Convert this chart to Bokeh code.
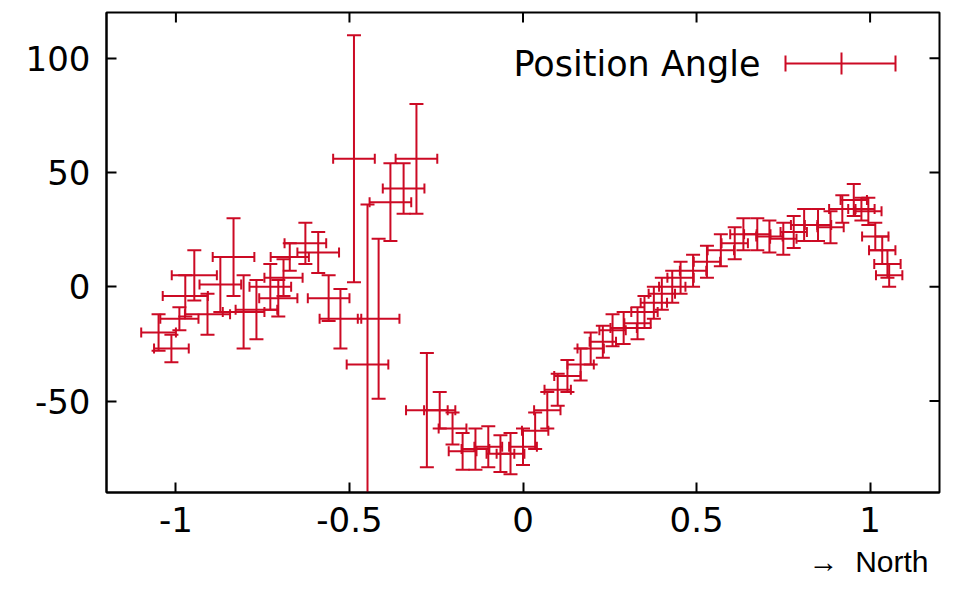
from bokeh.plotting import figure
from bokeh.models import (Range1d, FixedTicker, Whisker, ColumnDataSource,
                          TeeHead, Label, Title)
from bokeh.embed import file_html
from bokeh.resources import INLINE

# Position angle profile: offset, angle, angle error, offset error
offset = [
    -1.050, -1.013, -0.990, -0.973, -0.947, -0.909, -0.872, -0.834, -0.805, -0.768,
    -0.728, -0.705, -0.690, -0.672, -0.627, -0.590, -0.560, -0.526, -0.487, -0.448,
    -0.416, -0.382, -0.344, -0.307, -0.277, -0.240, -0.203, -0.174, -0.137, -0.100,
    -0.065, -0.036, 0.000, 0.035, 0.070, 0.100, 0.128, 0.166, 0.195, 0.230,
    0.258, 0.290, 0.330, 0.350, 0.377, 0.400, 0.430, 0.454, 0.490, 0.530,
    0.570, 0.610, 0.635, 0.675, 0.710, 0.750, 0.780, 0.810, 0.850, 0.886,
    0.920, 0.953, 0.975, 0.995, 1.015, 1.035, 1.050, 1.055,
]
angle = [
    -20, -27, -14, -4, 5, -12, 1, 13, -11, -10,
    0, -5, 4, 13, 19, 15, -5, -14, 56, -34,
    -14, 37, 43, 56, -54, -54, -62, -72, -71, -70,
    -73, -73, -70, -63, -54, -45, -39, -34, -27, -24,
    -19, -18, -16, -11, -7, -3, 0, 4, 7, 11,
    16, 19, 23, 23, 22, 21, 24, 27, 27, 26,
    34, 38, 34, 33, 22, 16, 10, 5,
]
angle_err = [
    8, 6, 5, 9, 11, 9, 12, 17, 16, 13,
    10, 8, 8, 6, 9, 9, 10, 13, 54, 70,
    35, 17, 11, 24, 25, 8, 7, 8, 9, 9,
    8, 9, 8, 8, 8, 7, 7, 7, 7, 7,
    7, 7, 7, 7, 7, 7, 7, 7, 7, 7,
    7, 7, 7, 7, 7, 7, 7, 7, 7, 7,
    6, 7, 5, 6, 6, 6, 6, 5,
]
offset_err = [
    0.050, 0.050, 0.055, 0.065, 0.065, 0.065, 0.060, 0.060, 0.060, 0.060,
    0.060, 0.055, 0.055, 0.055, 0.060, 0.060, 0.060, 0.060, 0.060, 0.060,
    0.060, 0.060, 0.060, 0.060, 0.060, 0.045, 0.040, 0.040, 0.040, 0.040,
    0.040, 0.040, 0.040, 0.038, 0.038, 0.038, 0.038, 0.038, 0.038, 0.038,
    0.038, 0.038, 0.038, 0.038, 0.038, 0.038, 0.038, 0.038, 0.038, 0.038,
    0.038, 0.038, 0.038, 0.038, 0.038, 0.038, 0.038, 0.038, 0.038, 0.038,
    0.038, 0.038, 0.038, 0.038, 0.038, 0.038, 0.038, 0.038,
]

x_ticks = [-1, -0.5, 0, 0.5, 1]
x_tick_labels = ["-1", "-0.5", "0", "0.5", "1"]
y_ticks = [-50, 0, 50, 100]
y_tick_labels = ["-50", "0", "50", "100"]

series_name = "Position Angle"
direction_note = "\u2192\u00a0\u00a0North"

RED = "#cc0a24"
FONT = "DejaVu Sans"

src = ColumnDataSource(dict(
    x=offset, y=angle,
    y_lo=[a - e for a, e in zip(angle, angle_err)],
    y_hi=[a + e for a, e in zip(angle, angle_err)],
    x_lo=[o - e for o, e in zip(offset, offset_err)],
    x_hi=[o + e for o, e in zip(offset, offset_err)],
))

p = figure(width=957, height=606,
           x_range=Range1d(-1.2, 1.2), y_range=Range1d(-90, 120),
           output_backend="svg", toolbar_location=None,
           min_border_left=106, min_border_right=18,
           min_border_top=12, min_border_bottom=114)
# frame-pixel helper ranges for the key and the mirrored ticks
p.extra_x_ranges = {"px": Range1d(106, 939)}
p.extra_y_ranges = {"py": Range1d(492, 12)}

p.background_fill_color = "white"
p.border_fill_color = "white"
p.outline_line_color = "black"
p.outline_line_width = 2
p.xgrid.visible = False
p.ygrid.visible = False


def style_axis(ax, ticks, labels):
    ax.ticker = FixedTicker(ticks=ticks)
    ax.axis_line_color = "black"
    ax.axis_line_width = 2
    ax.major_tick_line_color = "black"
    ax.major_tick_line_width = 2
    ax.major_tick_in = 10
    ax.major_tick_out = 0
    ax.minor_tick_line_color = None
    ax.major_label_overrides = {t: l for t, l in zip(ticks, labels)}
    ax.major_label_text_font = FONT
    ax.major_label_text_font_size = "34px"
    ax.major_label_text_color = "black"


style_axis(p.xaxis[0], x_ticks, x_tick_labels)
p.xaxis[0].major_label_standoff = 14
style_axis(p.yaxis[0], y_ticks, y_tick_labels)
p.yaxis[0].major_label_standoff = 16

# mirrored tick marks on the top and right edges, pointing inward
p.segment(x0=x_ticks, x1=x_ticks, y0=[12] * len(x_ticks), y1=[22] * len(x_ticks),
          y_range_name="py", line_color="black", line_width=2)
p.segment(x0=[939] * len(y_ticks), x1=[929] * len(y_ticks), y0=y_ticks, y1=y_ticks,
          x_range_name="px", line_color="black", line_width=2)

# error bars in both directions, with end caps
p.add_layout(Whisker(source=src, base="x", lower="y_lo", upper="y_hi", dimension="height",
                     line_color=RED, line_width=2,
                     lower_head=TeeHead(size=14, line_color=RED, line_width=2),
                     upper_head=TeeHead(size=14, line_color=RED, line_width=2)))
p.add_layout(Whisker(source=src, base="y", lower="x_lo", upper="x_hi", dimension="width",
                     line_color=RED, line_width=2,
                     lower_head=TeeHead(size=10, line_color=RED, line_width=2),
                     upper_head=TeeHead(size=10, line_color=RED, line_width=2)))

# key in the top right corner
p.add_layout(Label(x=760, y=63, x_range_name="px", y_range_name="py", text=series_name,
                   text_font=FONT, text_font_size="35px", text_align="right",
                   text_baseline="middle", text_color="black"))
p.segment(x0=[785, 785, 895, 841], y0=[63, 55, 55, 52], x1=[895, 785, 895, 841], y1=[63, 71, 71, 74],
          x_range_name="px", y_range_name="py", line_color=RED, line_width=2)

# direction note under the x axis, right-aligned and hanging below its slot
note = Title(text=direction_note, align="right", offset=11, standoff=16,
             text_font="Liberation Sans", text_font_size="30px",
             text_font_style="normal", text_baseline="top", text_color="black")
p.add_layout(note, "below")

open("out.html", "w").write(file_html(p, INLINE))
